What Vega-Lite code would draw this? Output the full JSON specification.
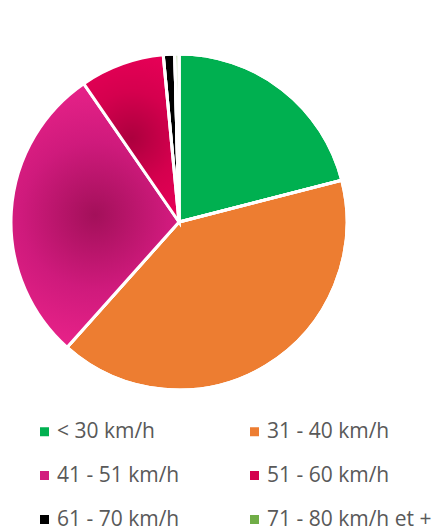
{
  "$schema": "https://vega.github.io/schema/vega-lite/v6.json",
  "width": 358,
  "height": 444,
  "autosize": "none",
  "padding": {"left": 0, "top": 0, "right": 74, "bottom": 87},
  "background": "white",
  "config": {"view": {"stroke": null}},
  "data": {
    "values": [
      {"k": "< 30 km/h", "v": 21.0, "o": 1},
      {"k": "31 - 40 km/h", "v": 40.6, "o": 2},
      {"k": "41 - 51 km/h", "v": 28.8, "o": 3},
      {"k": "51 - 60 km/h", "v": 8.1, "o": 4},
      {"k": "61 - 70 km/h", "v": 1.1, "o": 5},
      {"k": "71 - 80 km/h et +", "v": 0.4, "o": 6}
    ]
  },
  "layer": [
    {
      "mark": {"type": "arc", "outerRadius": 168, "stroke": "white", "strokeWidth": 3},
      "encoding": {
        "theta": {"field": "v", "type": "quantitative", "stack": true},
        "order": {"field": "o", "type": "quantitative"},
        "color": {
          "field": "k",
          "type": "nominal",
          "scale": {
            "domain": ["< 30 km/h", "31 - 40 km/h", "41 - 51 km/h", "51 - 60 km/h", "61 - 70 km/h", "71 - 80 km/h et +"],
            "range": ["#00b050", "#ed7d31", "#d21c7e", "#d4004e", "#000000", "#70ad47"]
          },
          "legend": {
            "title": null,
            "orient": "none",
            "legendX": 34,
            "legendY": 421,
            "columns": 2,
            "direction": "horizontal",
            "padding": 0,
            "columnPadding": 64,
            "rowPadding": 22,
            "symbolType": "square",
            "symbolSize": 81,
            "symbolStrokeWidth": 0,
            "labelOffset": 2,
            "labelFont": "Open Sans",
            "labelFontSize": 21,
            "labelColor": "#595959",
            "labelLimit": 300
          }
        }
      }
    },
    {
      "mark": {"type": "arc", "outerRadius": 168, "stroke": "white", "strokeWidth": 3},
      "encoding": {
        "theta": {"field": "v", "type": "quantitative", "stack": true},
        "order": {"field": "o", "type": "quantitative"},
        "fill": {
          "condition": [
            {
              "test": "datum.k === '41 - 51 km/h'",
              "value": {
                "gradient": "radial",
                "x1": 0.5, "y1": 0.5, "r1": 0,
                "x2": 0.5, "y2": 0.5, "r2": 0.62,
                "stops": [
                  {"offset": 0, "color": "#a3105a"},
                  {"offset": 0.45, "color": "#cf1a7c"},
                  {"offset": 1, "color": "#f4268f"}
                ]
              }
            },
            {
              "test": "datum.k === '51 - 60 km/h'",
              "value": {
                "gradient": "radial",
                "x1": 0.5, "y1": 0.5, "r1": 0,
                "x2": 0.5, "y2": 0.5, "r2": 0.62,
                "stops": [
                  {"offset": 0, "color": "#ac003e"},
                  {"offset": 0.45, "color": "#d5004e"},
                  {"offset": 1, "color": "#ee005a"}
                ]
              }
            }
          ],
          "value": "transparent"
        }
      }
    }
  ]
}
